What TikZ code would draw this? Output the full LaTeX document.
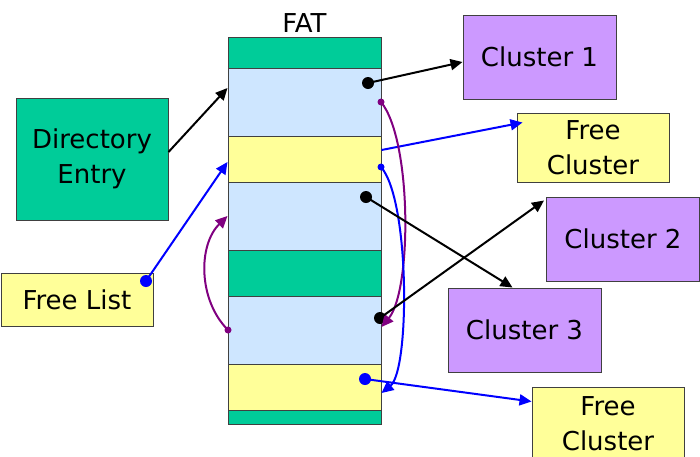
\documentclass[tikz,border=0pt]{standalone}
\usepackage{fontspec}
\setmainfont{DejaVu Sans}
\usetikzlibrary{arrows.meta,calc}

\definecolor{fatgreen}{RGB}{0,204,153}
\definecolor{fatblue}{RGB}{206,230,255}
\definecolor{fatyellow}{RGB}{255,255,153}
\definecolor{clpurple}{RGB}{204,153,255}
\definecolor{linkpurple}{RGB}{128,0,128}
\definecolor{boxline}{RGB}{64,64,64}

\tikzset{
    % Box styles
    box/.style={rectangle, draw=boxline, line width=1pt, align=center, inner sep=0pt,
                font=\fontsize{26}{35}\selectfont},
    cell/.style={rectangle, draw=boxline, line width=1pt, minimum width=153pt, inner sep=0pt},
    cluster/.style={box, fill=clpurple, minimum width=153pt, minimum height=84pt},
    free/.style={box, fill=fatyellow, minimum width=152pt},
    % Pointer styles
    ptr/.style={-{Triangle[length=12pt,width=11pt]}, line width=2pt},
    ptrdot/.style={circle, fill, inner sep=0pt, minimum size=12pt},
    small dot/.style={circle, fill, inner sep=0pt, minimum size=7pt},
}

\begin{document}
\begin{tikzpicture}[x=1pt, y=-1pt]
    \useasboundingbox (0,0) rectangle (700,456);

    % FAT column
    \node[font=\fontsize{26}{30}\selectfont] (fat) at (304.5,23) {FAT};
    \foreach \n/\t/\b/\c in {1/37/68/fatgreen, 2/68/136/fatblue, 3/136/182/fatyellow,
                             4/182/250/fatblue, 5/250/296/fatgreen, 6/296/364/fatblue,
                             7/364/410/fatyellow, 8/410/424/fatgreen} {
        \node[cell, fill=\c, minimum height={(\b-\t)*1pt}] (f\n) at (304.5,{(\t+\b)/2}) {};
    }

    % Directory entry and free list
    \node[box, fill=fatgreen, minimum width=152pt, minimum height=122pt] (dir) at (92,159) {Directory\\Entry};
    \node[free, minimum height=53pt] (flist) at (77,299.5) {Free List};

    % Clusters
    \node[cluster] (cl1) at (539.5,57) {Cluster 1};
    \node[free, minimum height=69pt] (fc1) at (593,147.5) {Free\\Cluster};
    \node[cluster] (cl2) at (623,239) {Cluster 2};
    \node[cluster] (cl3) at (524.5,330) {Cluster 3};
    \node[free, minimum height=74pt] (fc2) at (608,424) {Free\\Cluster};

    % Pointer dots
    \node[ptrdot] (d1) at (368,83) {};
    \node[small dot, blue] (d2) at (381,167) {};
    \node[ptrdot] (d3) at (366,197) {};
    \node[ptrdot] (d4) at (380,318) {};
    \node[ptrdot, blue] (d5) at (365,379) {};
    \node[ptrdot, blue] (d6) at (146,281) {};
    \node[small dot, linkpurple] (d7) at (381,102) {};
    \node[small dot, linkpurple] (d8) at (228,330) {};

    % Pointers
    \draw[ptr] ([yshift=7pt]dir.east) -- ([yshift=14pt]f2.west);
    \draw[ptr, blue] (d6.center) -- ([yshift=-3pt]f3.west);
    \draw[ptr, linkpurple] (d8.center) .. controls (198,300) and (198,245) .. (f4.west);
    \draw[ptr] (d1.center) -- ([yshift=-5pt]cl1.west);
    \draw[ptr, blue] ([yshift=9pt]f3.east) -- ([xshift=6pt,yshift=25pt]fc1.west);
    \draw[ptr, linkpurple] (d7.center) .. controls (412,140) and (412,290) .. ([yshift=3pt]f6.east);
    \draw[ptr, blue] (d2.center) .. controls (410,200) and (410,370) .. ([yshift=-6pt]f7.east);
    \draw[ptr] (d3.center) -- ([xshift=-12pt]cl3.north);
    \draw[ptr] (d4.center) -- ([xshift=-2pt,yshift=-4pt]cl2.north west);
    \draw[ptr, blue] (d5.center) -- ([yshift=-15pt]fc2.north west);
\end{tikzpicture}
\end{document}
